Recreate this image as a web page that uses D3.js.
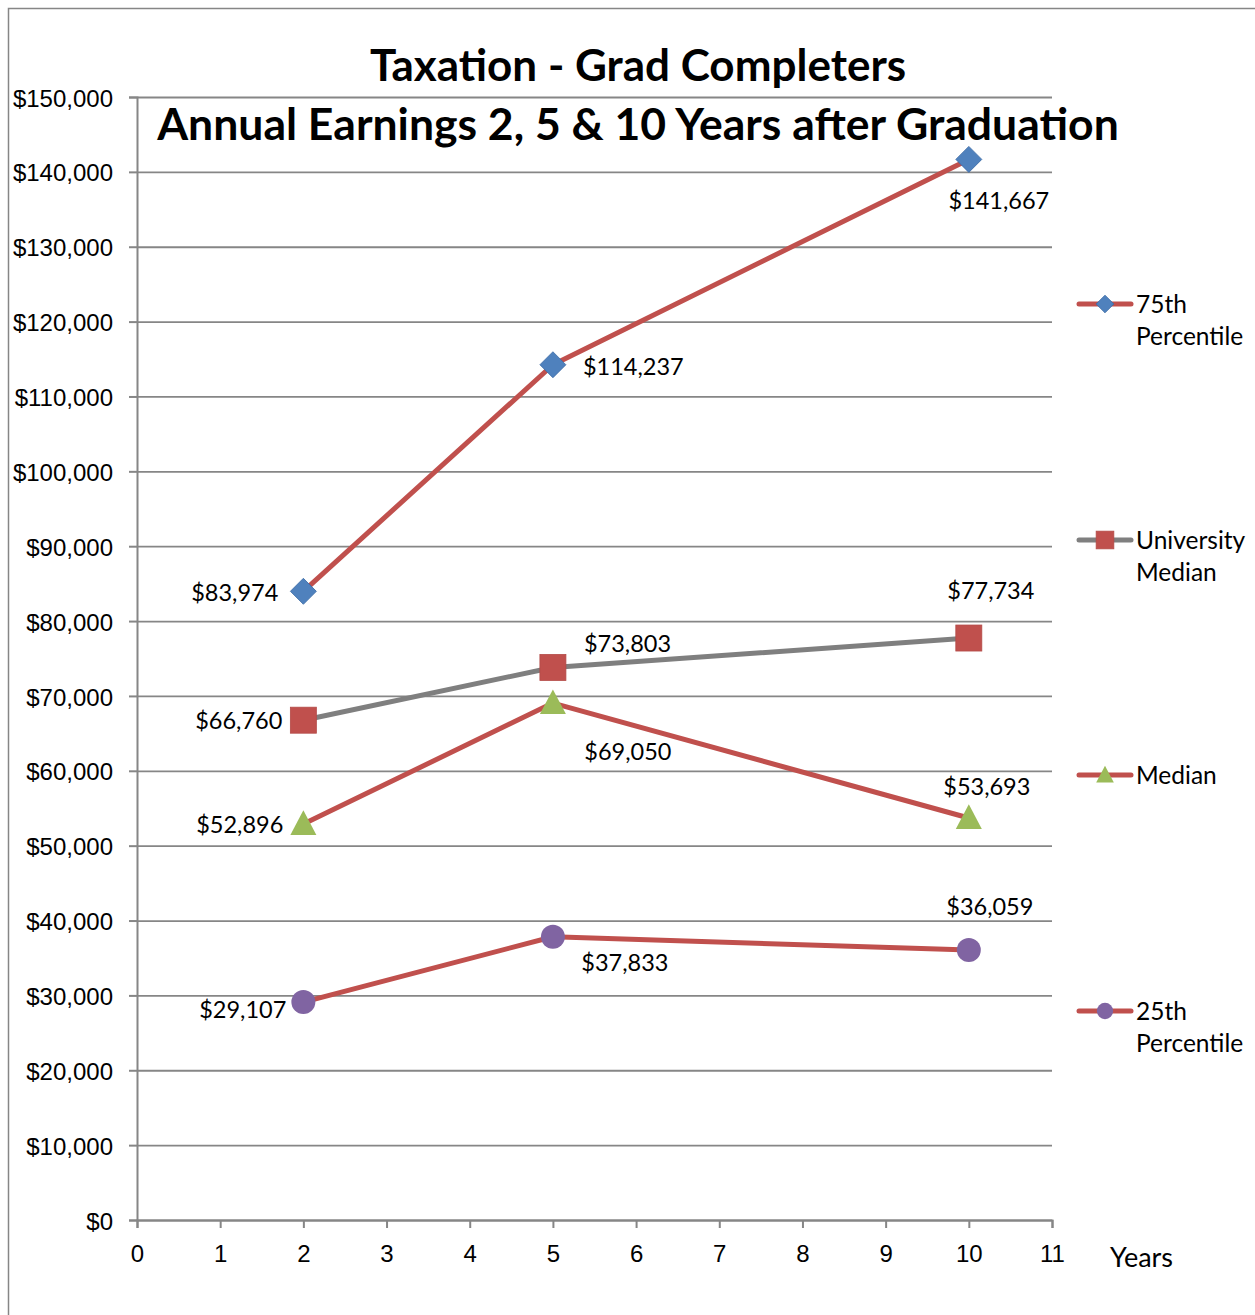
<!DOCTYPE html>
<html>
<head>
<meta charset="utf-8">
<script src="https://cdn.jsdelivr.net/npm/d3@7"></script>
<style>
  body { margin: 0; background: #fff; }
  svg { display: block; font-family: Lato, 'Open Sans', sans-serif; }
  .tick text { font-size: 24px; fill: #000; }
  .lbl { font-size: 23.5px; fill: #000; }
  .leg { font-size: 24.5px; fill: #000; }
</style>
</head>
<body>
<svg width="1255" height="1315"></svg>
<script>
const years = [2, 5, 10]
const xTicks = [0, 1, 2, 3, 4, 5, 6, 7, 8, 9, 10, 11]
const yTicks = [0, 10000, 20000, 30000, 40000, 50000, 60000, 70000, 80000, 90000, 100000, 110000, 120000, 130000, 140000, 150000]

const p75 = [83974, 114237, 141667]
const uniMedian = [66760, 73803, 77734]
const median = [52896, 69050, 53693]
const p25 = [29107, 37833, 36059]

const seriesNames = ['75th Percentile', 'University Median', 'Median', '25th Percentile']

// label placement per point: [anchor, dx, dy]
const series = [
  { name: seriesNames[0], values: p75, line: '#C0504D', fill: '#4F81BD', shape: 'diamond', legendY: 304,
    place: [['end', -25, 10], ['start', 30, 10], ['middle', 30, 50]] },
  { name: seriesNames[1], values: uniMedian, line: '#7F7F7F', fill: '#C0504D', shape: 'square', legendY: 540,
    place: [['end', -21, 9], ['start', 31, -15], ['middle', 22, -39]] },
  { name: seriesNames[2], values: median, line: '#C0504D', fill: '#9BBB59', shape: 'triangle', legendY: 775,
    place: [['end', -20, 9], ['middle', 75, 57], ['middle', 18, -23]] },
  { name: seriesNames[3], values: p25, line: '#C0504D', fill: '#8064A2', shape: 'circle', legendY: 1011,
    place: [['end', -17, 16], ['middle', 72, 34], ['middle', 21, -35]] }
]

const margin = { left: 137, top: 97, right: 203, bottom: 95 }
const W = 1255, H = 1315

const svg = d3.select('svg')

// outer chart frame
svg.append('rect')
  .attr('x', 8.5).attr('y', 8.5)
  .attr('width', W).attr('height', H)
  .attr('fill', 'none').attr('stroke', '#868686').attr('stroke-width', 1.5)

const x = d3.scaleLinear().domain([0, 11]).range([margin.left, W - margin.right])
const y = d3.scaleLinear().domain([0, 150000]).range([H - margin.bottom, margin.top])

// gridlines + y axis
const yAxis = svg.append('g')
  .attr('transform', `translate(${margin.left},0)`)
  .call(d3.axisLeft(y).tickValues(yTicks).tickSize(8).tickPadding(16)
    .tickFormat(d => '$' + d3.format(',')(d)))
yAxis.select('.domain').attr('stroke', '#868686').attr('stroke-width', 2)
yAxis.selectAll('.tick line').attr('stroke', '#868686').attr('stroke-width', 2)
yAxis.selectAll('.tick').append('line')
  .attr('x1', 0).attr('x2', x(11) - margin.left)
  .attr('stroke', '#868686').attr('stroke-width', 1.8)
yAxis.selectAll('.tick text').attr('dy', '0.38em')

const xAxis = svg.append('g')
  .attr('transform', `translate(0,${y(0)})`)
  .call(d3.axisBottom(x).tickValues(xTicks).tickSize(8).tickPadding(14).tickFormat(d3.format('d')))
xAxis.select('.domain').attr('stroke', '#868686').attr('stroke-width', 2)
xAxis.selectAll('.tick line').attr('stroke', '#868686').attr('stroke-width', 2)
xAxis.selectAll('.tick text').attr('dy', '0.85em')

svg.append('text')
  .attr('x', 1110).attr('y', 1267).text('Years').style('font-size', '27px')

// title
svg.append('text').attr('x', 638).attr('y', 81).attr('text-anchor', 'middle')
  .style('font-size', '44px').style('font-weight', 'bold').text('Taxation - Grad Completers')
svg.append('text').attr('x', 638).attr('y', 140).attr('text-anchor', 'middle')
  .style('font-size', '44.5px').style('font-weight', 'bold').text('Annual Earnings 2, 5 & 10 Years after Graduation')

function drawMarker (g, shape, fill, cx, cy, scale) {
  const s = scale || 1
  if (shape === 'diamond') {
    const r = 13 * s
    g.append('path').attr('d', `M${cx},${cy - r}L${cx + r},${cy}L${cx},${cy + r}L${cx - r},${cy}Z`)
      .attr('fill', fill).attr('stroke', '#3A6AA5').attr('stroke-width', 0.8)
  } else if (shape === 'square') {
    const r = 13 * s
    g.append('rect').attr('x', cx - r).attr('y', cy - r).attr('width', 2 * r).attr('height', 2 * r)
      .attr('fill', fill).attr('stroke', '#B34B48').attr('stroke-width', 0.8)
  } else if (shape === 'triangle') {
    const r = 13 * s
    g.append('path').attr('d', `M${cx},${cy - r * 1.05}L${cx + r},${cy + r * 0.85}L${cx - r},${cy + r * 0.85}Z`)
      .attr('fill', fill)
  } else {
    g.append('circle').attr('cx', cx).attr('cy', cy).attr('r', 12 * s).attr('fill', fill)
  }
}

const line = d3.line().x((d, i) => x(years[i])).y(d => y(d))

series.forEach(s => {
  const g = svg.append('g')
  g.append('path').datum(s.values).attr('d', line)
    .attr('fill', 'none').attr('stroke', s.line).attr('stroke-width', 5).attr('stroke-linejoin', 'round')
  s.values.forEach((v, i) => {
    drawMarker(g, s.shape, s.fill, x(years[i]), y(v))
    const [anchor, dx, dy] = s.place[i]
    g.append('text').attr('class', 'lbl')
      .attr('x', x(years[i]) + dx).attr('y', y(v) + dy)
      .attr('text-anchor', anchor)
      .text('$' + d3.format(',')(v))
  })

  // legend
  const lg = svg.append('g')
  lg.append('line').attr('x1', 1079).attr('x2', 1131).attr('y1', s.legendY).attr('y2', s.legendY)
    .attr('stroke', s.line).attr('stroke-width', 5).attr('stroke-linecap', 'round')
  drawMarker(lg, s.shape, s.fill, 1105, s.legendY, 0.68)
  const words = s.name.split(' ')
  const first = words.slice(0, words.length - 1).join(' ') || words[0]
  const second = words.length > 1 ? words[words.length - 1] : ''
  lg.append('text').attr('class', 'leg').attr('x', 1136).attr('y', s.legendY + 9).text(first)
  if (second) lg.append('text').attr('class', 'leg').attr('x', 1136).attr('y', s.legendY + 41).text(second)
})
</script>
</body>
</html>
